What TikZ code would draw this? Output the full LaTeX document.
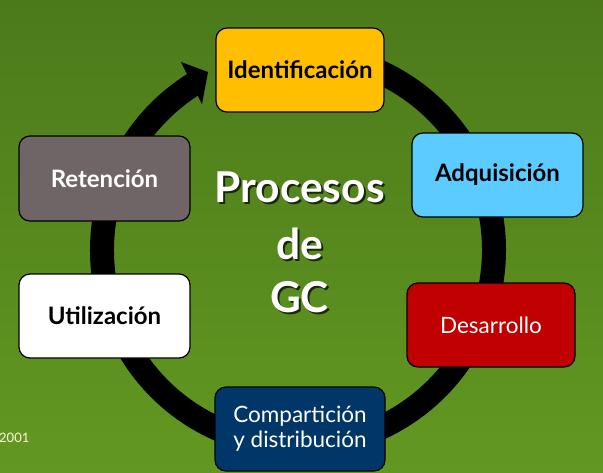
\documentclass[tikz,border=0pt]{standalone}
\usepackage{fontspec}
\setmainfont{Lato}
\definecolor{bgtop}{RGB}{76,122,27}
\definecolor{bgbot}{RGB}{98,152,33}
\definecolor{cident}{RGB}{255,190,0}
\definecolor{cadq}{RGB}{92,203,255}
\definecolor{cdes}{RGB}{192,0,0}
\definecolor{ccomp}{RGB}{0,54,104}
\definecolor{cret}{RGB}{111,100,102}
\definecolor{cyear}{RGB}{255,250,215}
\definecolor{cshadow}{RGB}{26,40,10}
\newcommand{\shadowed}[1]{\makebox[0pt][l]{\hspace{2pt}\raisebox{-2pt}{\textcolor{cshadow}{#1}}}\textcolor{white}{#1}}
\begin{document}
\begin{tikzpicture}[x=1pt,y=-1pt]
\tikzset{
  proc/.style={draw=black, line width=1.2pt, rounded corners=11pt,
    minimum width=170pt, minimum height=84pt, inner sep=0pt,
    font=\fontsize{22.5}{25}\selectfont, align=center},
  procbold/.style={proc, font=\bfseries\fontsize{24}{26}\selectfont},
  ringline/.style={line width=24pt, draw=black},
  titletext/.style={font=\bfseries\fontsize{42.5}{46}\selectfont, inner sep=0pt}
}
\shade[top color=bgtop, bottom color=bgbot] (0,0) rectangle (603,472);
\useasboundingbox (0,0) rectangle (603,472);
% ring
\coordinate (c) at (298,250);
\draw[ringline] ([shift={(121.5:196pt)}]c) arc[start angle=121.5, end angle=450, radius=196pt];
\coordinate (h1) at (181,62);
\coordinate (h2) at (208,72);
\coordinate (h3) at (202,104);
\fill[black] (h1) -- (h2) -- (h3) -- cycle;
% boxes
\node[procbold, fill=cident, minimum width=168pt] (ident) at (300,70) {Identificación};
\node[procbold, fill=cadq, minimum width=171pt] (adq) at (497.5,175) {Adquisición};
\node[proc, fill=cdes, text=white, minimum width=168pt] (des) at (491,325) {Desarrollo};
\node[proc, fill=ccomp, text=white] (comp) at (300,429) {Compartición\\y distribución};
\node[procbold, fill=white, minimum width=171pt] (util) at (104.5,316) {Utilización};
\node[procbold, fill=cret, text=white, minimum width=171pt, minimum height=85pt] (ret) at (104.5,178.5) {Retención};
% title
\node[titletext] (t1) at (299.5,188.5) {\shadowed{Procesos}};
\node[titletext] (t2) at (299.5,244.5) {\shadowed{de}};
\node[titletext] (t3) at (299.5,298.5) {\shadowed{GC}};
% year
\node[anchor=west, text=cyear, font=\fontsize{13}{15}\selectfont, inner sep=0pt] (year) at (-1,438) {2001};
\end{tikzpicture}
\end{document}
